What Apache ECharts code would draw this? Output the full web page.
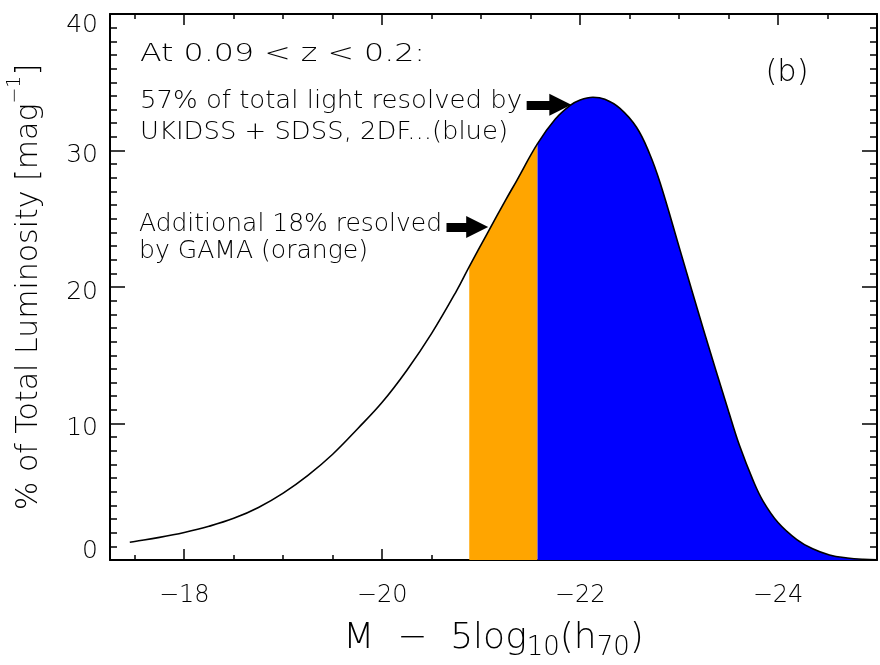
<!DOCTYPE html>
<html>
<head>
<meta charset="utf-8">
<script src="https://cdn.jsdelivr.net/npm/echarts@6/dist/echarts.min.js"></script>
<style>
html,body{margin:0;padding:0;background:#fff}
#chart{width:880px;height:665px}
</style>
</head>
<body>
<div id="chart"></div>
<script>
// M - 5log10(h70) and % of total luminosity per mag
var mag = [-17.45, -17.5, -17.75, -18, -18.25, -18.5, -18.75, -19, -19.25, -19.5, -19.75, -20, -20.25, -20.5, -20.75, -20.88,
  -21.06, -21.25, -21.36, -21.57, -21.75, -21.9, -22, -22.13, -22.25, -22.4, -22.57, -22.7, -22.81, -23.01, -23.25, -23.5,
  -23.61, -23.75, -23.85, -24, -24.19, -24.35, -24.52, -24.7, -24.86, -25];
var lum = [1.3, 1.36, 1.66, 2.02, 2.47, 3.05, 3.85, 4.9, 6.2, 7.75, 9.6, 11.55, 13.9, 16.6, 19.7, 21.5,
  23.9, 26.4, 27.8, 30.5, 32.3, 33.3, 33.7, 33.9, 33.75, 33.1, 31.7, 29.8, 27.6, 22.7, 16.8, 10.9,
  8.4, 5.8, 4.3, 2.75, 1.5, 0.82, 0.37, 0.15, 0.05, 0.02];
var orangeFrom = -20.88;   // GAMA extra
var blueFrom = -21.57;     // UKIDSS + SDSS, 2DF
var xMajor = [-18, -20, -22, -24];
var xMinor = [-17.5, -18.5, -19, -19.5, -20.5, -21, -21.5, -22.5, -23, -23.5, -24.5];
// arrows [x0, x1, y]
var arrowBlue = [-21.46, -21.80, 33.35];
var arrowOrange = [-20.65, -20.96, 24.4];

var curve = mag.map(function (m, i) { return [m, lum[i]]; });
var orangePart = curve.filter(function (p) { return p[0] <= orangeFrom && p[0] >= blueFrom; });
var bluePart = curve.filter(function (p) { return p[0] <= blueFrom; });

var font = '"DejaVu Sans"';
var weight = 200;
var chart = echarts.init(document.getElementById('chart'));

function xAx(pos, ticks, len, main) {
  return {
    type: 'value', min: -25, max: -17.25, inverse: true, position: pos,
    axisLine: {show: main, lineStyle: {color: '#000', width: 2}},
    axisTick: {show: true, inside: true, length: len, customValues: ticks, lineStyle: {color: '#000', width: 1.5}},
    axisLabel: {show: false},
    splitLine: {show: false}
  };
}
var xBottom = xAx('bottom', xMajor, 11, true);
xBottom.axisLabel = {
  show: true, customValues: xMajor, margin: 24, color: '#000', fontSize: 24, fontFamily: font, fontWeight: weight,
  formatter: function (v) { return '\u2212' + Math.abs(v); }
};
xBottom.name = '{m|M  \u2212  5log}{s|10}{m|(h}{s|70}{m|)}';
xBottom.nameLocation = 'middle';
xBottom.nameGap = 57;
xBottom.nameTextStyle = {
  rich: {
    m: {fontSize: 36, fontFamily: font, fontWeight: weight, color: '#000', lineHeight: 40, verticalAlign: 'top'},
    s: {fontSize: 26, fontFamily: font, fontWeight: weight, color: '#000', lineHeight: 26, verticalAlign: 'bottom', padding: [22, 0, 0, 0]}
  }
};

function yAx(pos, main) {
  return {
    type: 'value', min: 0, max: 40, interval: 10, position: pos,
    axisLine: {show: true, lineStyle: {color: '#000', width: 2}},
    axisTick: {show: true, inside: true, length: 15, lineStyle: {color: '#000', width: 1.5}},
    minorTick: {show: true, splitNumber: 10, length: 7, lineStyle: {color: '#000', width: 1.5}},
    axisLabel: {
      show: main, margin: 12, color: '#000', fontSize: 25, fontFamily: font, fontWeight: weight,
      formatter: function (v) { return v === 0 ? '{lo|0}' : (v === 40 ? '{hi|40}' : '{md|' + v + '}'); },
      rich: {
        lo: {padding: [0, 0, 18, 0]},
        hi: {padding: [22, 0, 0, 0]},
        md: {padding: [10, 0, 0, 0]}
      }
    },
    splitLine: {show: false}
  };
}
var yLeft = yAx('left', true);
yLeft.name = '{m|% of Total Luminosity [mag}{p|\u22121}{m|]}';
yLeft.nameLocation = 'middle';
yLeft.nameGap = 66;
yLeft.nameTextStyle = {
  rich: {
    m: {fontSize: 30, fontFamily: font, fontWeight: weight, color: '#000', lineHeight: 38, verticalAlign: 'bottom'},
    p: {fontSize: 19, fontFamily: font, fontWeight: weight, color: '#000', lineHeight: 19, verticalAlign: 'top', padding: [0, 0, 20, 0]}
  }
};

// stretch each note to the width it has in the figure
var measure = document.createElement('canvas').getContext('2d');
function note(text, x, y, size, width, align) {
  var f = weight + ' ' + size + 'px ' + font;
  measure.font = f;
  var sx = width / measure.measureText(text).width;
  return {
    type: 'text', x: x, y: y, z: 100, scaleX: sx,
    style: {text: text, fill: '#000', font: f, align: align || 'left', verticalAlign: 'middle'}
  };
}

var option = {
  animation: false,
  backgroundColor: '#fff',
  grid: {left: 110, right: 3, top: 14, bottom: 105, containLabel: false, outerBoundsMode: 'none'},
  xAxis: [xBottom, xAx('bottom', xMinor, 5, false), xAx('top', xMajor, 11, true), xAx('top', xMinor, 5, false)],
  yAxis: [yLeft, yAx('right', false)],
  graphic: [
    note('At 0.09 < z < 0.2:', 140, 55, 24, 285),
    note('57% of total light resolved by', 140, 102, 24, 382),
    note('UKIDSS + SDSS, 2DF...(blue)', 140, 133, 24, 368),
    note('Additional 18% resolved', 139, 225, 24, 303),
    note('by GAMA (orange)', 139, 252, 24, 229),
    note('(b)', 787, 73, 30, 43, 'center')
  ],
  series: [
    {
      name: 'orange', type: 'line', data: orangePart, smooth: 0.4, symbol: 'none',
      lineStyle: {width: 0}, areaStyle: {color: '#FFA500', opacity: 1}, z: 1
    },
    {
      name: 'blue', type: 'line', data: bluePart, smooth: 0.4, symbol: 'none',
      lineStyle: {width: 0}, areaStyle: {color: '#0000FF', opacity: 1}, z: 1
    },
    {
      name: 'total', type: 'line', data: curve, smooth: 0.4, symbol: 'none',
      lineStyle: {color: '#000', width: 1.6}, z: 3,
      markLine: {
        silent: true, animation: false,
        symbol: ['none', 'path://M5,0 L10,10 L0,10 Z'], symbolSize: 22,
        label: {show: false},
        lineStyle: {color: '#000', width: 9, type: 'solid'},
        data: [
          [{coord: [arrowBlue[0], arrowBlue[2]]}, {coord: [arrowBlue[1], arrowBlue[2]]}],
          [{coord: [arrowOrange[0], arrowOrange[2]]}, {coord: [arrowOrange[1], arrowOrange[2]]}]
        ]
      }
    }
  ]
};
chart.setOption(option);
</script>
</body>
</html>
